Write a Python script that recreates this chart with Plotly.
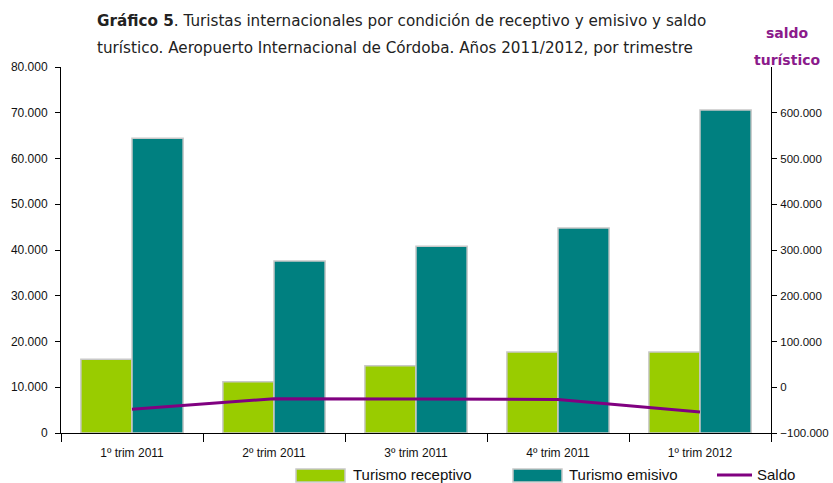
import plotly.graph_objects as go

categorias = ["1º trim 2011", "2º trim 2011", "3º trim 2011", "4º trim 2011", "1º trim 2012"]
receptivo = [16100, 11200, 14700, 17700, 17700]
emisivo = [64400, 37600, 40800, 44800, 70600]
saldo = [-48000, -25000, -25500, -27000, -54000]

left_ticks = [0, 10000, 20000, 30000, 40000, 50000, 60000, 70000, 80000]
right_ticks = [-100000, 0, 100000, 200000, 300000, 400000, 500000, 600000]

GREEN = "#99CC00"
TEAL = "#008080"
PURPLE = "#800080"
FONT = "Liberation Sans"
TFONT = "DejaVu Sans"

fig = go.Figure()
fig.add_trace(go.Bar(x=categorias, y=receptivo, name="Turismo receptivo",
                     marker=dict(color=GREEN, line=dict(color="#C8C8C8", width=1.5)),
                     showlegend=False))
fig.add_trace(go.Bar(x=categorias, y=emisivo, name="Turismo emisivo",
                     marker=dict(color=TEAL, line=dict(color="#C8C8C8", width=1.5)),
                     showlegend=False))
fig.add_trace(go.Scatter(x=categorias, y=saldo, name="Saldo", yaxis="y2", mode="lines",
                         line=dict(color=PURPLE, width=3), showlegend=False))

W, H = 833, 483
ml, mr, mt, mb = 61, 62, 67, 50
pw, ph = W - ml - mr, H - mt - mb

def px(xp):
    return (xp - ml) / pw

def py(yp):
    return (H - mb - yp) / ph

annotations = [
    dict(text="<b>Gráfico 5</b>. Turistas internacionales por condición de receptivo y emisivo y saldo",
         x=px(95), y=py(21), xref="paper", yref="paper", xanchor="left", yanchor="middle",
         showarrow=False, font=dict(family=TFONT, size=15.2, color="#222222")),
    dict(text="turístico. Aeropuerto Internacional de Córdoba. Años 2011/2012, por trimestre",
         x=px(95), y=py(48), xref="paper", yref="paper", xanchor="left", yanchor="middle",
         showarrow=False, font=dict(family=TFONT, size=15.2, color="#222222")),
    dict(text="<b>saldo</b>", x=px(787), y=py(33), xref="paper", yref="paper",
         xanchor="center", yanchor="middle", showarrow=False,
         font=dict(family=TFONT, size=14, color="#8B1A8B")),
    dict(text="<b>turístico</b>", x=px(787), y=py(60), xref="paper", yref="paper",
         xanchor="center", yanchor="middle", showarrow=False,
         font=dict(family=TFONT, size=14, color="#8B1A8B")),
    dict(text="Turismo receptivo", x=px(351), y=py(475), xref="paper", yref="paper",
         xanchor="left", yanchor="middle", showarrow=False,
         font=dict(family=FONT, size=15, color="#111111")),
    dict(text="Turismo emisivo", x=px(567), y=py(475), xref="paper", yref="paper",
         xanchor="left", yanchor="middle", showarrow=False,
         font=dict(family=FONT, size=15, color="#111111")),
    dict(text="Saldo", x=px(755), y=py(475), xref="paper", yref="paper",
         xanchor="left", yanchor="middle", showarrow=False,
         font=dict(family=FONT, size=15, color="#111111")),
]

shapes = [
    dict(type="rect", xref="paper", yref="paper", x0=px(296), x1=px(345), y0=py(482), y1=py(469),
         fillcolor=GREEN, line=dict(color="#C8C8C8", width=1.5)),
    dict(type="rect", xref="paper", yref="paper", x0=px(513), x1=px(562), y0=py(482), y1=py(469),
         fillcolor=TEAL, line=dict(color="#C8C8C8", width=1.5)),
    dict(type="line", xref="paper", yref="paper", x0=px(717), x1=px(752), y0=py(475), y1=py(475),
         line=dict(color=PURPLE, width=3)),
]

fig.update_layout(
    width=W, height=H,
    margin=dict(l=ml, r=mr, t=mt, b=mb, autoexpand=False),
    paper_bgcolor="white", plot_bgcolor="white",
    separators=",.",
    barmode="group", bargap=0.28, bargroupgap=0,
    font=dict(family=FONT, size=12, color="#111111"),
    xaxis=dict(showline=True, linecolor="black", linewidth=1, ticks="outside",
               tickson="boundaries", ticklen=8, tickcolor="black",
               tickfont=dict(size=12), ticklabelstandoff=9, automargin=False,
               showgrid=False, mirror=False),
    yaxis=dict(range=[0, 80000], tickvals=left_ticks, tickformat=",d",
               showline=True, linecolor="black", linewidth=1, ticks="outside",
               ticklen=5, tickcolor="black", showgrid=False, zeroline=False,
               tickfont=dict(size=12), ticklabelstandoff=5, automargin=False),
    yaxis2=dict(range=[-100000, 700000], tickvals=right_ticks, tickformat=",d",
                overlaying="y", side="right", showline=True, linecolor="black",
                linewidth=1, ticks="outside", ticklen=5, tickcolor="black",
                showgrid=False, zeroline=False, tickfont=dict(size=11.5),
                ticklabelstandoff=1, automargin=False),
    annotations=annotations,
    shapes=shapes,
)

fig.write_html("out.html", config={"displayModeBar": False},
               post_script="document.body.style.margin='0';")
